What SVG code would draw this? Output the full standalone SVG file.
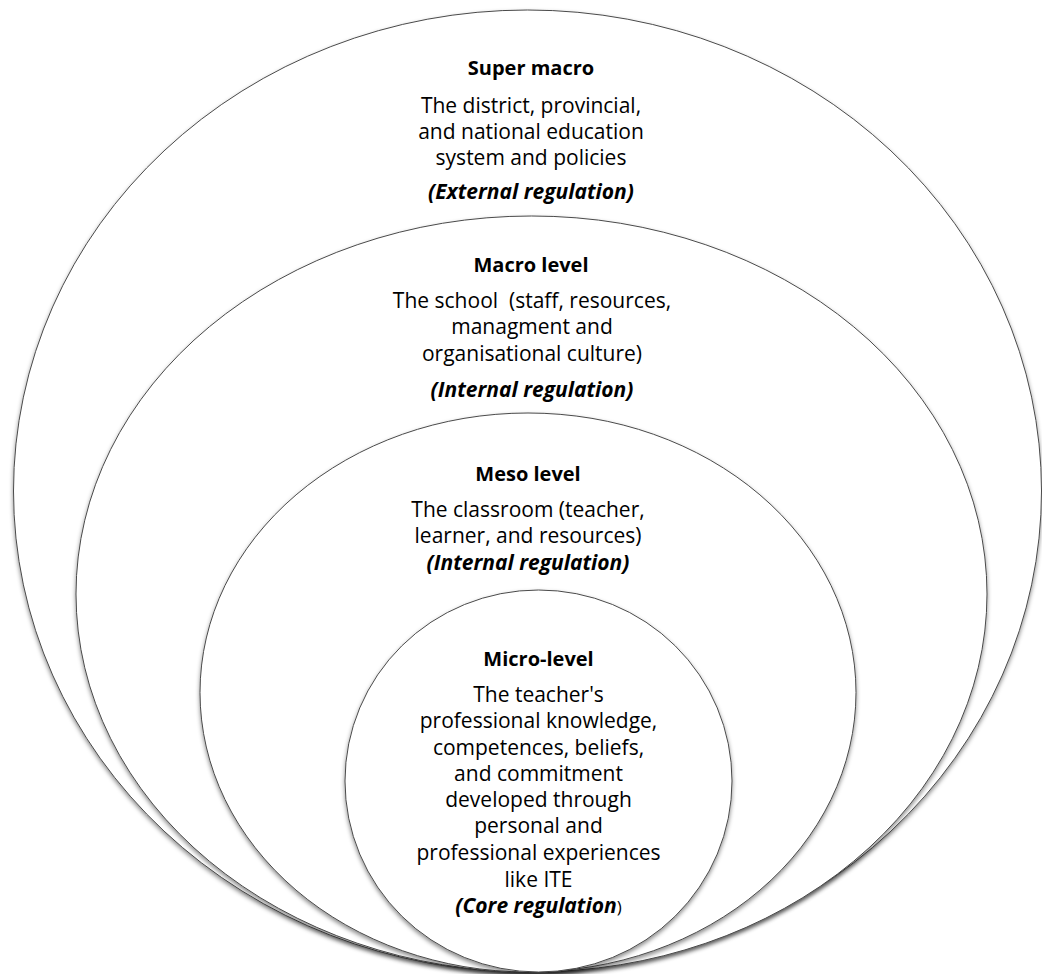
<svg xmlns="http://www.w3.org/2000/svg" width="1042" height="974" viewBox="0 0 1042 974">
<defs>
<filter id="sh" x="-5%" y="-5%" width="110%" height="110%">
<feDropShadow dx="0" dy="2.5" stdDeviation="2" flood-color="#000" flood-opacity="0.45"/>
</filter>
<style>
.lvl{fill:#fff;stroke:#4a4a4a;stroke-width:1;filter:url(#sh)}
text{font-family:"Open Sans","Noto Sans","Liberation Sans",sans-serif;fill:#000;text-anchor:middle;font-size:21px}
.t{font-weight:bold;font-size:20px}
.r{font-weight:bold;font-style:italic;font-size:21px}
</style>
</defs>
<rect width="1042" height="974" fill="#fff"/>
<g id="super-macro">
<ellipse class="lvl" cx="527.5" cy="491" rx="514" ry="481"/>
<text class="t" x="531" y="75">Super macro</text>
<text x="531" y="113">The district, provincial,</text>
<text x="531" y="139">and national education</text>
<text x="531" y="165">system and policies</text>
<text class="r" x="531" y="199">(External regulation)</text>
</g>
<g id="macro-level">
<ellipse class="lvl" cx="531.5" cy="594" rx="455.5" ry="378"/>
<text class="t" x="531" y="272">Macro level</text>
<text x="532" y="308" xml:space="preserve">The school  (staff, resources,</text>
<text x="532" y="334">managment and</text>
<text x="532" y="361">organisational culture)</text>
<text class="r" x="532" y="397">(Internal regulation)</text>
</g>
<g id="meso-level">
<ellipse class="lvl" cx="528" cy="692.5" rx="328" ry="279.5"/>
<text class="t" x="528" y="481">Meso level</text>
<text x="528" y="517">The classroom (teacher,</text>
<text x="528" y="543">learner, and resources)</text>
<text class="r" x="528" y="570">(Internal regulation)</text>
</g>
<g id="micro-level">
<ellipse class="lvl" cx="538.5" cy="781" rx="193.5" ry="191"/>
<text class="t" x="538.5" y="666">Micro-level</text>
<text x="538.5" y="702">The teacher's</text>
<text x="538.5" y="728">professional knowledge,</text>
<text x="538.5" y="755">competences, beliefs,</text>
<text x="538.5" y="781">and commitment</text>
<text x="538.5" y="807">developed through</text>
<text x="538.5" y="833">personal and</text>
<text x="538.5" y="860">professional experiences</text>
<text x="538.5" y="887">like ITE</text>
<text class="r" x="538.5" y="913">(Core regulation<tspan style="font-weight:normal;font-style:normal;font-size:17px">)</tspan></text>
</g>
<g id="connectors"/>
</svg>
